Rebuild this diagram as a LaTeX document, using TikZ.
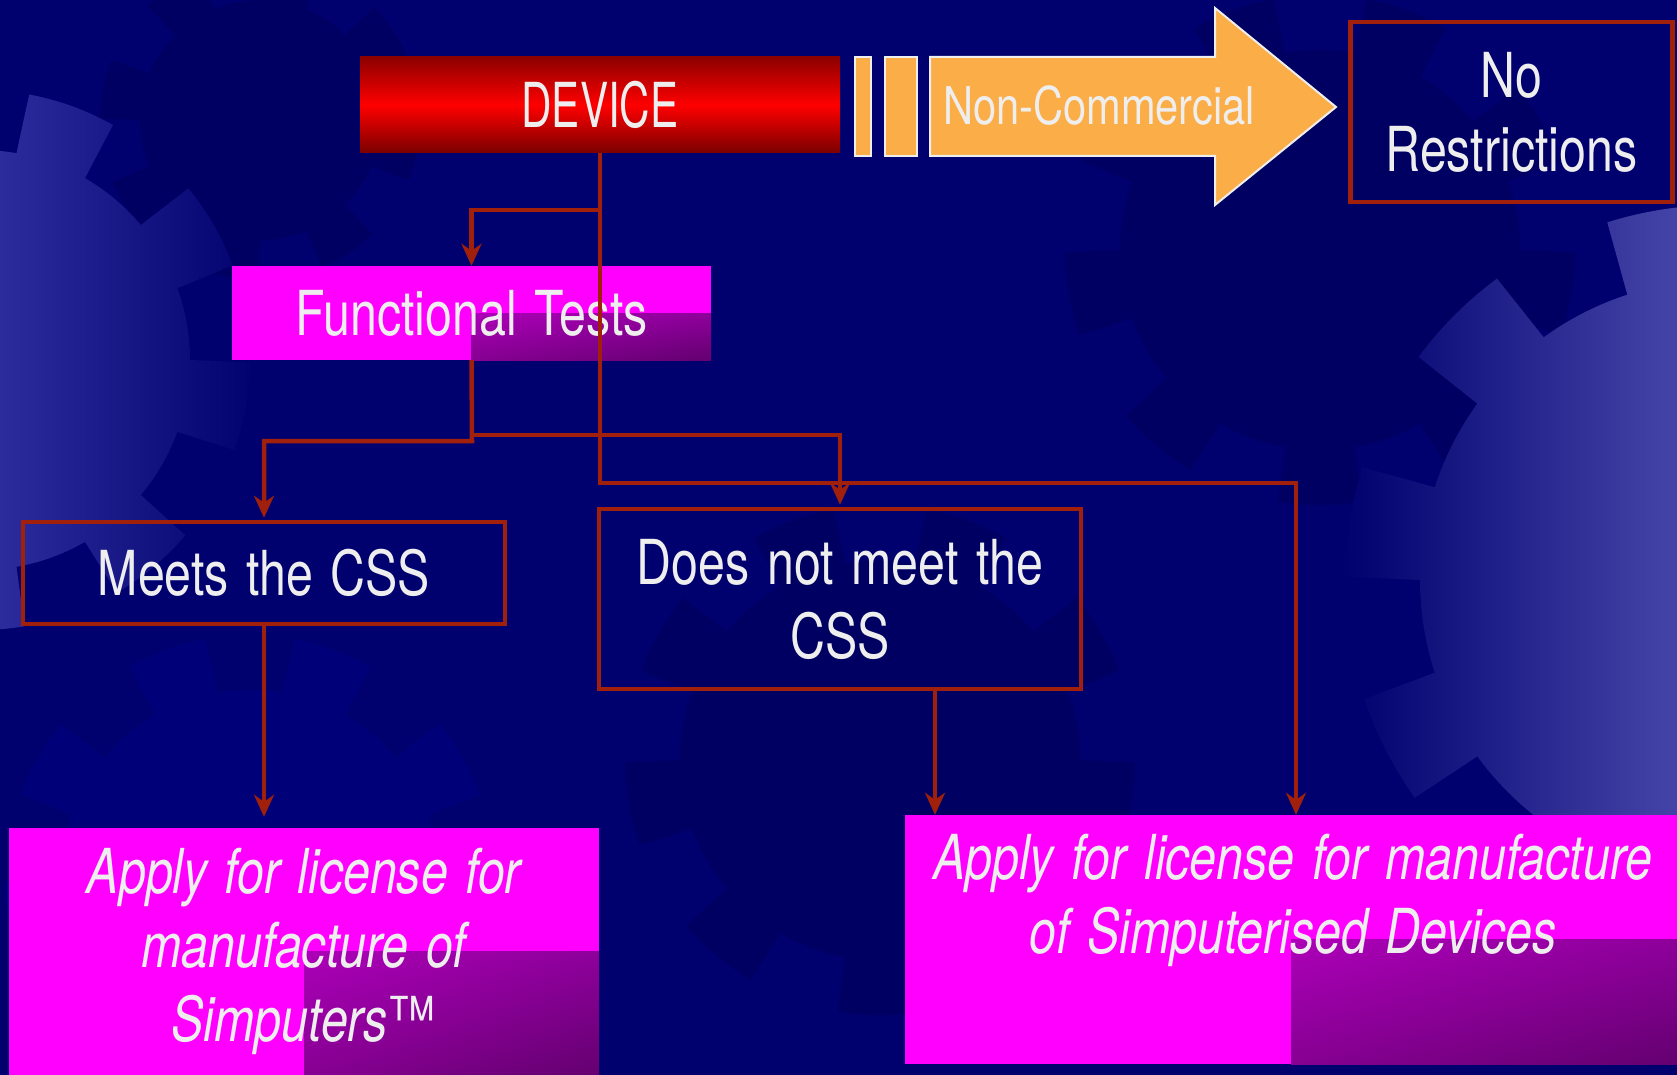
\documentclass[tikz,border=0pt]{standalone}
\usepackage{fontspec}
\setmainfont{TeX Gyre Heros}[FakeStretch=0.78, WordSpace=1.3]
\newfontfamily\devfont{TeX Gyre Heros}[FakeStretch=0.68]
\newfontfamily\ncfont{TeX Gyre Heros}[FakeStretch=0.8]
\usetikzlibrary{arrows.meta,shadings}
\definecolor{bg}{HTML}{00006E}
\definecolor{gdark}{HTML}{000062}
\definecolor{gmid}{HTML}{000079}
\definecolor{gleft}{HTML}{2C2C9C}
\definecolor{gright}{HTML}{4444A8}
\definecolor{linered}{HTML}{A0200C}
\definecolor{txt}{HTML}{EEEEEE}
\definecolor{mag}{HTML}{FF00FF}
\definecolor{qa}{HTML}{EC00F4}
\definecolor{qb}{HTML}{B800C6}
\definecolor{qc}{HTML}{A800B4}
\definecolor{qd}{HTML}{640070}
\definecolor{orangefill}{HTML}{FBAD47}
\definecolor{redtop}{HTML}{8C0000}
\definecolor{redmid}{HTML}{FF0000}
\definecolor{redbot}{HTML}{7A0000}
\newcommand{\fs}{\fontsize{62}{74}\selectfont}
\newcommand{\gear}[5]{plot[domain=0:360,samples=721,variable=\t]({#1+(#3+#4*(sin(#5*\t)>0))*cos(\t)},{#2+(#3+#4*(sin(#5*\t)>0))*sin(\t)}) -- cycle}
\tikzset{
  conn/.style={draw=linered, line width=4.5pt, -{Stealth[length=22pt,width=20pt,inset=7pt]}},
  outbox/.style={draw=linered, line width=4.5pt, inner sep=0pt, text=txt, font=\fs, align=center},
  magbox/.style={fill=mag, inner sep=0pt, text=txt, font=\fs, align=center,
    path picture={\shade[upper left=qa, upper right=qb, lower left=qc, lower right=qd]
      (path picture bounding box.center) rectangle (path picture bounding box.south east);}},
  lbl/.style={text=txt, inner sep=0pt, align=center, font=\fs},
}
\begin{document}
\begin{tikzpicture}[x=1pt,y=-1pt]
\useasboundingbox (0,0) rectangle (1677,1075);
\fill[bg] (0,0) rectangle (1677,1075);
% background gears
\fill[gdark] \gear{260}{120}{120}{40}{8};
\fill[gdark] \gear{1320}{250}{200}{55}{9};
\fill[gmid] \gear{250}{880}{190}{55}{9};
\fill[gdark] \gear{880}{760}{200}{55}{9};
\begin{scope}
  \clip \gear{-20}{360}{210}{60}{9};
  \shade[left color=gleft, right color=bg] (0,80) rectangle (260,650);
\end{scope}
\begin{scope}
  \clip \gear{1720}{580}{300}{75}{10};
  \shade[left color=bg, right color=gright] (1340,200) rectangle (1677,1000);
\end{scope}

% device box
\node[inner sep=0pt, minimum width=480pt, minimum height=96pt,
      top color=redtop, bottom color=redbot, middle color=redmid,
      text=txt, font=\devfont\fontsize{62}{74}\selectfont] (device) at (600,105) {DEVICE};

% orange arrow
\fill[orangefill, draw=txt, line width=2pt] (855,57) rectangle (871,156);
\fill[orangefill, draw=txt, line width=2pt] (885,57) rectangle (917,156);
\fill[orangefill, draw=txt, line width=2pt]
  (930,57) -- (1215,57) -- (1215,8) -- (1336,107) -- (1215,205) -- (1215,156) -- (930,156) -- cycle;
\node[text=txt, inner sep=0pt, anchor=base, font=\ncfont\fontsize{52}{60}\selectfont] (noncom) at (1099,125) {Non-Commercial};

% outlined boxes
\node[outbox, minimum width=322pt, minimum height=180pt] (norestr) at (1511.5,112) {No\\Restrictions};
\node[outbox, minimum width=482pt, minimum height=102pt] (meets) at (264,573) {Meets the CSS};
\node[outbox, minimum width=482pt, minimum height=180pt] (dnm) at (840,599) {Does not meet the\\CSS};

% magenta boxes
\node[magbox, minimum width=479pt, minimum height=94pt] (func) at (471.5,313) {Functional Tests};
\node[magbox, minimum width=590pt, minimum height=247pt] (bl) at (304,951.5) {};
\node[magbox, minimum width=772pt, minimum height=249pt] (br) at (1291,939.5) {};
\node[lbl, anchor=north, font=\fs\itshape] (bltext) at (304,848)
  {Apply for license for\\manufacture of\\Simputers{\upshape ™}};
\node[lbl, anchor=north, font=\fs\itshape] (brtext) at (1293,834)
  {Apply for license for manufacture\\of Simputerised Devices};

% connectors
\coordinate (j1) at (600,210);
\coordinate (j2) at (600,483);
\coordinate (j3) at (472,441);
\coordinate (j4) at (472,435);
\draw[conn] (device.south) -- (j2) -| ([xshift=5pt]br.north);
\draw[conn] (j1) -| (func.north);
\draw[conn, shorten >=2pt] (func.south) -- (j3) -| (meets.north);
\draw[conn, shorten >=2pt] (j4) -| (dnm.north);
\draw[conn, shorten >=11pt] (meets.south) -- (meets.south |- bl.north);
\draw[conn] ([xshift=95pt]dnm.south) -- ([xshift=95pt]dnm.south |- br.north);
\end{tikzpicture}
\end{document}
